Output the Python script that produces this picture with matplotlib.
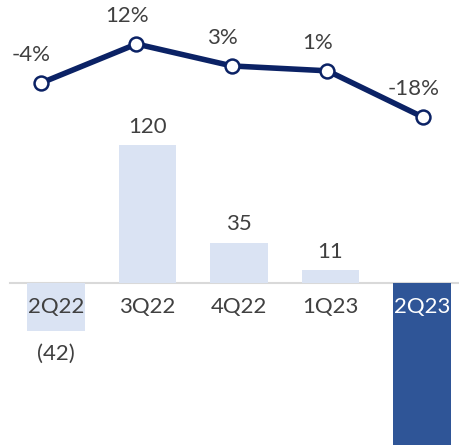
import matplotlib
matplotlib.use("Agg")
import matplotlib.pyplot as plt

quarters = ["2Q22", "3Q22", "4Q22", "1Q23", "2Q23"]
bar_values = [-42, 120, 35, 11, -141]
bar_labels = ["(42)", "120", "35", "11", ""]
pct_values = [-4, 12, 3, 1, -18]
pct_labels = ["-4%", "12%", "3%", "1%", "-18%"]

light = "#dae3f3"
dark = "#2f5597"
navy = "#0b2265"
txt = "#404040"
FS = 16

plt.rcParams['font.family'] = ['Lato', 'DejaVu Sans']

W, H = 459, 447
fig = plt.figure(figsize=(W / 100, H / 100), dpi=100)
ax = fig.add_axes([0, 0, 1, 1])
ax.set_xlim(-0.612, 4.404)
ax.set_ylim(-142.6, 246)
ax.axis("off")

colors = [light] * 4 + [dark]
xs = list(range(len(quarters)))
ax.bar(xs, bar_values, width=0.63, color=colors, zorder=2)
ax.plot([-0.5, 4.5], [0, 0], color="#d9d9d9", lw=1.5, zorder=1)

for i, (v, lab) in enumerate(zip(bar_values, bar_labels)):
    if not lab:
        continue
    if v >= 0:
        ax.annotate(lab, (i, v), xytext=(0, 6), textcoords="offset points",
                    ha="center", va="bottom", fontsize=FS, color=txt)
    else:
        ax.annotate(lab, (i, v), xytext=(0, -9), textcoords="offset points",
                    ha="center", va="top", fontsize=FS, color=txt)

for i, q in enumerate(quarters):
    ax.annotate(q, (i, 0), xytext=(0, -17), textcoords="offset points",
                ha="center", va="center", fontsize=FS,
                color="white" if i == 4 else txt, zorder=3)

ax2 = fig.add_axes([0, 0, 1, 1], facecolor="none")
ax2.set_xlim(-0.429, 4.377)
ax2.set_ylim(-153.2, 30.03)
ax2.axis("off")
ax2.plot(xs, pct_values, color=navy, lw=4, marker="o", ms=10,
         markerfacecolor="white", markeredgecolor=navy, markeredgewidth=1.8,
         zorder=3, solid_capstyle="round")
for i, (v, lab) in enumerate(zip(pct_values, pct_labels)):
    ax2.annotate(lab, (i, v), xytext=(-7, 20), textcoords="offset points",
                 ha="center", va="center", fontsize=FS, color=txt)

fig.savefig("out.png", dpi=100)
